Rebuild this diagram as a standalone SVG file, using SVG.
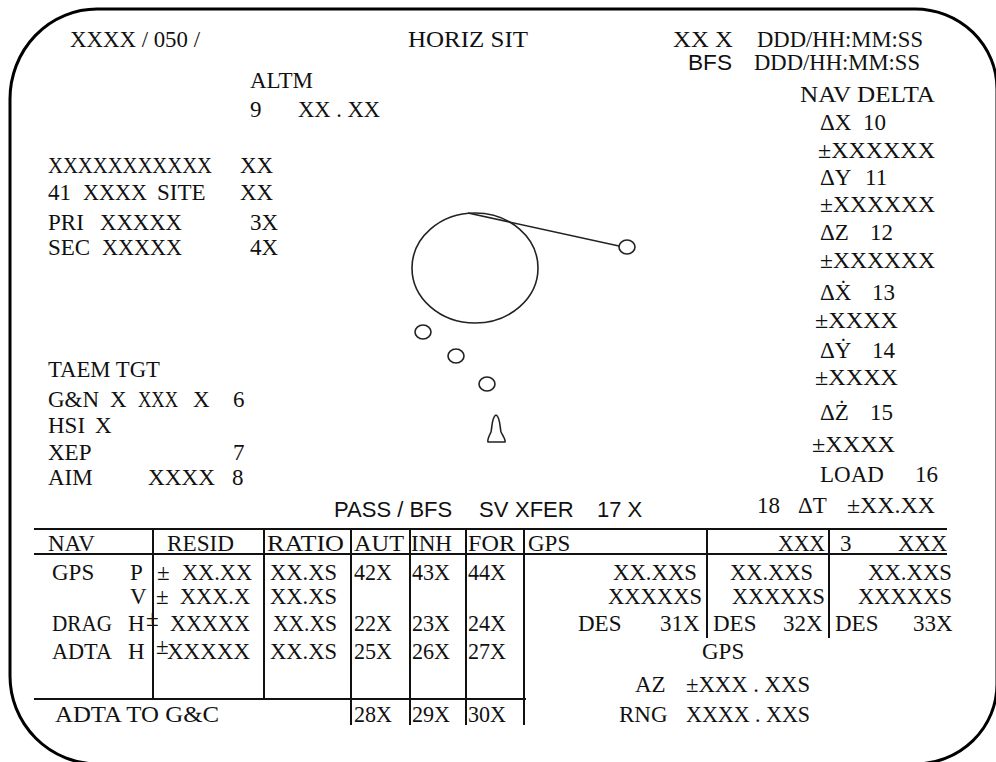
<svg xmlns="http://www.w3.org/2000/svg" width="996" height="762" viewBox="0 0 996 762">
<style>
.t{font-family:"Liberation Serif","Times New Roman",serif;font-size:23px;fill:#111}
.s{font-family:"Liberation Sans",Arial,sans-serif;font-size:22px;fill:#111}
.ln{stroke:#111;stroke-width:2;fill:none}
.g{stroke:#222;stroke-width:1.6;fill:none}
.fr{stroke:#000;stroke-width:3;fill:none}
</style>
<rect width="996" height="762" fill="#fff"/>
<g id="frame"><path class="fr" d="M97 9 L915 9 A82 80 0 0 1 997 89 L997 684 A82 80 0 0 1 915 764 L98 764 A88 88 0 0 1 10 676 L10 99 A87 90 0 0 1 97 9 Z"/></g>
<g id="header">
<text class="t" x="70" y="47" textLength="130" lengthAdjust="spacingAndGlyphs">XXXX / 050 /</text>
<text class="t" x="408" y="47" textLength="120" lengthAdjust="spacingAndGlyphs">HORIZ  SIT</text>
<text class="t" x="673" y="47" textLength="60" lengthAdjust="spacingAndGlyphs">XX X</text>
<text class="t" x="757" y="47" textLength="166" lengthAdjust="spacingAndGlyphs">DDD/HH:MM:SS</text>
<text class="s" x="688" y="70" textLength="44" lengthAdjust="spacingAndGlyphs">BFS</text>
<text class="t" x="754" y="70" textLength="166" lengthAdjust="spacingAndGlyphs">DDD/HH:MM:SS</text>
</g>
<g id="altm">
<text class="t" x="250" y="88" textLength="63" lengthAdjust="spacingAndGlyphs">ALTM</text>
<text class="t" x="250" y="117">9</text>
<text class="t" x="298" y="117" textLength="82" lengthAdjust="spacingAndGlyphs">XX . XX</text>
</g>
<g id="nav-delta">
<text class="t" x="800" y="102" textLength="135" lengthAdjust="spacingAndGlyphs">NAV DELTA</text>
<text class="t" x="820" y="130">ΔX</text><text class="t" x="863" y="130">10</text>
<text class="t" x="818" y="158" textLength="117" lengthAdjust="spacingAndGlyphs">±XXXXXX</text>
<text class="t" x="820" y="185">ΔY</text><text class="t" x="865" y="185">11</text>
<text class="t" x="820" y="212" textLength="115" lengthAdjust="spacingAndGlyphs">±XXXXXX</text>
<text class="t" x="820" y="240">ΔZ</text><text class="t" x="870" y="240">12</text>
<text class="t" x="820" y="268" textLength="115" lengthAdjust="spacingAndGlyphs">±XXXXXX</text>
<text class="t" x="820" y="300">ΔẊ</text><text class="t" x="872" y="300">13</text>
<text class="t" x="815" y="328" textLength="83" lengthAdjust="spacingAndGlyphs">±XXXX</text>
<text class="t" x="820" y="358">ΔẎ</text><text class="t" x="872" y="358">14</text>
<text class="t" x="815" y="385" textLength="83" lengthAdjust="spacingAndGlyphs">±XXXX</text>
<text class="t" x="820" y="420">ΔŻ</text><text class="t" x="870" y="420">15</text>
<text class="t" x="812" y="452" textLength="83" lengthAdjust="spacingAndGlyphs">±XXXX</text>
<text class="t" x="820" y="482">LOAD</text><text class="t" x="915" y="482">16</text>
<text class="t" x="757" y="513">18</text>
<text class="t" x="798" y="513">ΔT</text>
<text class="t" x="847" y="513" textLength="88" lengthAdjust="spacingAndGlyphs">±XX.XX</text>
</g>
<g id="site-block">
<text class="t" x="48" y="173" textLength="164" lengthAdjust="spacingAndGlyphs">XXXXXXXXXXX</text><text class="t" x="240" y="173">XX</text>
<text class="t" x="48" y="200">41</text><text class="t" x="83" y="200" textLength="64" lengthAdjust="spacingAndGlyphs">XXXX</text><text class="t" x="157" y="200">SITE</text><text class="t" x="240" y="200">XX</text>
<text class="t" x="48" y="230">PRI</text><text class="t" x="100" y="230" textLength="82" lengthAdjust="spacingAndGlyphs">XXXXX</text><text class="t" x="250" y="230">3X</text>
<text class="t" x="48" y="255">SEC</text><text class="t" x="102" y="255" textLength="80" lengthAdjust="spacingAndGlyphs">XXXXX</text><text class="t" x="250" y="255">4X</text>
</g>
<g id="taem-block">
<text class="t" x="48" y="377" textLength="112" lengthAdjust="spacingAndGlyphs">TAEM TGT</text>
<text class="t" x="48" y="407">G&amp;N</text><text class="t" x="110" y="407">X</text><text class="t" x="138" y="407" textLength="40" lengthAdjust="spacingAndGlyphs">XXX</text><text class="t" x="193" y="407">X</text><text class="t" x="233" y="407">6</text>
<text class="t" x="48" y="433">HSI</text><text class="t" x="95" y="433">X</text>
<text class="t" x="48" y="460">XEP</text><text class="t" x="233" y="460">7</text>
<text class="t" x="48" y="485">AIM</text><text class="t" x="148" y="485" textLength="67" lengthAdjust="spacingAndGlyphs">XXXX</text><text class="t" x="232" y="485">8</text>
</g>
<g id="horiz-graphic">
<ellipse class="g" cx="475" cy="268" rx="63" ry="55"/>
<ellipse class="g" cx="627" cy="247" rx="8" ry="7"/>
<ellipse class="g" cx="423" cy="332" rx="8" ry="7"/>
<ellipse class="g" cx="456" cy="356" rx="8" ry="7"/>
<ellipse class="g" cx="487" cy="384" rx="8" ry="7"/>
<path class="g" d="M496 415 C492 416 492 428 491 432 C489 436 487 440 488 442 L505 442 C506 440 503 436 501 432 C500 428 500 416 496 415 Z"/>
</g>
<g id="connectors"><line class="g" x1="468" y1="213" x2="619" y2="246"/></g>
<g id="xfer">
<text class="s" x="334" y="517">PASS / BFS</text><text class="s" x="479" y="517">SV</text><text class="s" x="515" y="517">XFER</text><text class="s" x="597" y="517">17 X</text>
</g>
<g id="table">
<path class="ln" d="M34 529 H947 M34 554 H947 M34 699 H526 M153 529 V699 M264 529 V699 M351 529 V725 M410 529 V725 M466 529 V725 M524 529 V725 M707 529 V638 M829 529 V638"/>
<text class="t" x="48" y="551">NAV</text>
<text class="t" x="167" y="551" textLength="67" lengthAdjust="spacingAndGlyphs">RESID</text>
<text class="t" x="267" y="551" textLength="77" lengthAdjust="spacingAndGlyphs">RATIO</text>
<text class="t" x="354" y="551" textLength="50" lengthAdjust="spacingAndGlyphs">AUT</text>
<text class="t" x="411" y="551" textLength="41" lengthAdjust="spacingAndGlyphs">INH</text>
<text class="t" x="468" y="551" textLength="47" lengthAdjust="spacingAndGlyphs">FOR</text>
<text class="t" x="528" y="551">GPS</text>
<text class="t" x="778" y="551" textLength="47" lengthAdjust="spacingAndGlyphs">XXX</text>
<text class="t" x="840" y="551">3</text>
<text class="t" x="898" y="551" textLength="49" lengthAdjust="spacingAndGlyphs">XXX</text>
<text class="t" x="52" y="580">GPS</text><text class="t" x="130" y="580">P</text><text class="t" x="157" y="580">±</text>
<text class="t" x="182" y="580" textLength="70" lengthAdjust="spacingAndGlyphs">XX.XX</text><text class="t" x="270" y="580" textLength="67" lengthAdjust="spacingAndGlyphs">XX.XS</text>
<text class="t" x="354" y="580" textLength="38" lengthAdjust="spacingAndGlyphs">42X</text><text class="t" x="412" y="580" textLength="38" lengthAdjust="spacingAndGlyphs">43X</text><text class="t" x="468" y="580" textLength="38" lengthAdjust="spacingAndGlyphs">44X</text>
<text class="t" x="613" y="580" textLength="84" lengthAdjust="spacingAndGlyphs">XX.XXS</text><text class="t" x="730" y="580" textLength="83" lengthAdjust="spacingAndGlyphs">XX.XXS</text><text class="t" x="868" y="580" textLength="84" lengthAdjust="spacingAndGlyphs">XX.XXS</text>
<text class="t" x="130" y="604">V</text><text class="t" x="156" y="604">±</text>
<text class="t" x="180" y="604" textLength="70" lengthAdjust="spacingAndGlyphs">XXX.X</text><text class="t" x="270" y="604" textLength="67" lengthAdjust="spacingAndGlyphs">XX.XS</text>
<text class="t" x="608" y="604" textLength="94" lengthAdjust="spacingAndGlyphs">XXXXXS</text><text class="t" x="732" y="604" textLength="93" lengthAdjust="spacingAndGlyphs">XXXXXS</text><text class="t" x="858" y="604" textLength="94" lengthAdjust="spacingAndGlyphs">XXXXXS</text>
<text class="t" x="52" y="631" textLength="60" lengthAdjust="spacingAndGlyphs">DRAG</text><text class="t" x="128" y="631">H</text><text class="t" x="146" y="626">±</text>
<text class="t" x="170" y="631" textLength="80" lengthAdjust="spacingAndGlyphs">XXXXX</text><text class="t" x="273" y="631" textLength="64" lengthAdjust="spacingAndGlyphs">XX.XS</text>
<text class="t" x="354" y="631" textLength="38" lengthAdjust="spacingAndGlyphs">22X</text><text class="t" x="412" y="631" textLength="38" lengthAdjust="spacingAndGlyphs">23X</text><text class="t" x="468" y="631" textLength="38" lengthAdjust="spacingAndGlyphs">24X</text>
<text class="t" x="578" y="631">DES</text><text class="t" x="660" y="631">31X</text>
<text class="t" x="713" y="631">DES</text><text class="t" x="783" y="631">32X</text>
<text class="t" x="835" y="631">DES</text><text class="t" x="913" y="631">33X</text>
<text class="t" x="52" y="659" textLength="60" lengthAdjust="spacingAndGlyphs">ADTA</text><text class="t" x="128" y="659">H</text><text class="t" x="156" y="654" font-size="16">±</text>
<text class="t" x="167" y="659" textLength="83" lengthAdjust="spacingAndGlyphs">XXXXX</text><text class="t" x="270" y="659" textLength="67" lengthAdjust="spacingAndGlyphs">XX.XS</text>
<text class="t" x="354" y="659" textLength="38" lengthAdjust="spacingAndGlyphs">25X</text><text class="t" x="412" y="659" textLength="38" lengthAdjust="spacingAndGlyphs">26X</text><text class="t" x="468" y="659" textLength="38" lengthAdjust="spacingAndGlyphs">27X</text>
<text class="t" x="702" y="659">GPS</text>
<text class="t" x="635" y="692">AZ</text><text class="t" x="686" y="692" textLength="124" lengthAdjust="spacingAndGlyphs">±XXX . XXS</text>
<text class="t" x="55" y="722" textLength="164" lengthAdjust="spacingAndGlyphs">ADTA TO G&amp;C</text>
<text class="t" x="354" y="722" textLength="38" lengthAdjust="spacingAndGlyphs">28X</text><text class="t" x="412" y="722" textLength="38" lengthAdjust="spacingAndGlyphs">29X</text><text class="t" x="468" y="722" textLength="38" lengthAdjust="spacingAndGlyphs">30X</text>
<text class="t" x="619" y="722">RNG</text><text class="t" x="686" y="722" textLength="124" lengthAdjust="spacingAndGlyphs">XXXX . XXS</text>
</g>
</svg>
